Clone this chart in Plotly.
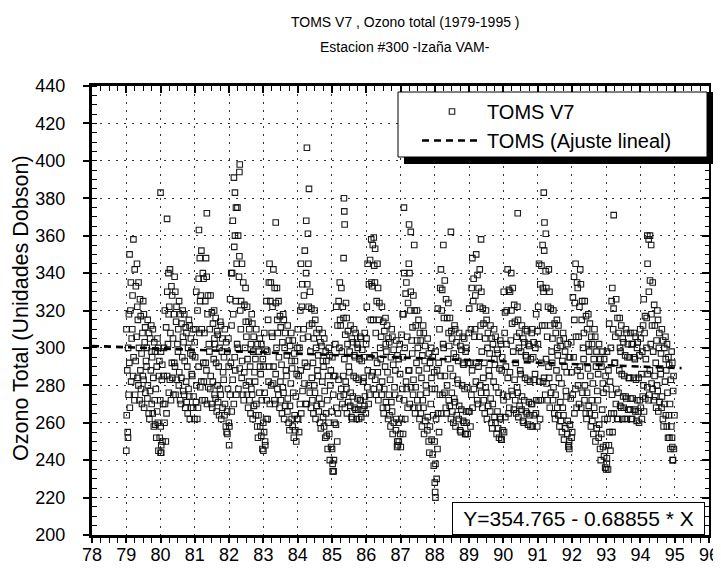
import plotly.graph_objects as go

# ---------------- data ----------------
years = list(range(1979, 1995))
# per month: [low, p10, p25, median, p75, p90, high]  (Dobson units, estimated from the cloud)
y1979 = [[255,264,275,288,300,310,318],[268,282,292,305,320,335,350],[272,285,295,310,328,342,358],
         [275,284,293,306,322,333,345],[272,280,288,300,315,326,335],[270,278,285,297,308,317,325],
         [268,276,283,293,303,311,318],[265,273,280,290,300,308,315],[262,270,277,288,298,305,312],
         [258,265,272,284,295,303,310],[252,259,266,278,290,298,305],[245,252,260,272,285,293,300]]
y1980 = [[244,250,258,270,283,291,298],[250,260,270,285,300,311,320],[265,276,285,302,318,330,340],
         [272,283,292,308,322,333,342],[275,284,292,305,318,328,338],[275,283,290,302,314,322,330],
         [272,280,287,298,310,318,325],[270,277,284,295,306,313,320],[268,275,282,293,303,311,318],
         [265,271,278,290,300,308,315],[262,268,274,286,297,305,312],[262,268,274,285,296,303,310]]
y1981 = [[262,271,280,295,310,320,330],[268,279,290,308,325,337,348],[272,282,292,310,328,340,352],
         [272,282,292,308,325,337,348],[270,279,288,302,318,328,338],[270,278,285,298,310,319,328],
         [268,275,282,294,305,313,320],[266,273,280,292,302,309,316],[264,271,278,290,300,307,314],
         [262,268,275,287,298,305,312],[258,264,270,283,295,303,310],[255,260,266,278,290,298,305]]
y1982 = [[258,266,275,292,312,326,340],[270,283,295,318,340,354,368],[275,288,302,325,345,360,375],
         [278,289,300,320,338,349,360],[275,284,293,310,325,335,345],[272,280,287,300,314,323,332],
         [268,275,282,294,306,314,322],[265,272,278,290,302,310,318],[262,269,275,287,298,306,313],
         [258,264,270,282,294,302,310],[252,258,264,276,290,298,305],[246,253,260,272,286,294,302]]
y1983 = [[248,255,262,276,290,299,308],[262,272,282,298,315,325,335],[270,280,290,308,325,335,345],
         [272,281,290,306,322,332,342],[270,278,286,300,315,324,332],[268,275,282,295,308,317,325],
         [265,272,279,291,303,311,318],[262,269,276,288,300,308,315],[260,266,273,285,296,304,312],
         [256,262,269,281,293,301,308],[252,258,264,276,289,297,304],[250,256,262,274,286,293,300]]
y1984 = [[255,262,270,285,300,310,320],[265,277,288,305,322,334,345],[270,281,292,310,328,340,352],
         [270,280,290,306,322,334,345],[268,276,284,298,312,321,330],[265,272,280,292,305,313,320],
         [262,269,276,288,300,308,315],[260,266,273,285,296,303,310],[257,263,270,282,293,301,308],
         [252,258,265,277,290,298,305],[246,253,260,272,285,293,300],[240,247,254,266,280,288,296]]
y1985 = [[234,240,246,260,275,285,295],[250,259,268,285,302,312,322],[265,274,283,300,315,325,335],
         [270,278,285,298,312,322,332],[268,275,282,294,307,316,324],[265,271,278,290,302,309,316],
         [263,269,276,287,298,305,312],[262,268,274,285,296,303,310],[262,267,273,284,295,302,308],
         [262,267,272,283,294,300,306],[263,267,272,282,293,299,305],[265,269,274,284,295,302,308]]
y1986 = [[270,279,288,305,322,334,345],[275,285,295,315,335,347,358],[278,287,296,315,333,344,355],
         [275,283,292,308,325,335,345],[272,279,287,300,315,324,332],[268,275,282,294,306,314,322],
         [265,271,278,290,302,309,316],[262,268,275,287,298,305,312],[258,264,271,283,295,303,310],
         [254,260,266,279,291,299,306],[250,256,262,275,288,296,304],[248,254,260,273,286,294,302]]
y1987 = [[247,254,262,278,295,307,318],[262,272,282,300,318,329,340],[268,278,288,306,324,335,345],
         [270,279,288,304,320,330,340],[268,275,283,297,311,320,328],[265,272,279,292,304,312,320],
         [262,268,275,288,300,308,315],[258,265,272,284,296,304,312],[254,261,268,280,293,301,308],
         [250,256,263,276,289,297,305],[244,251,258,270,284,292,300],[237,243,250,264,278,287,295]]
y1988 = [[230,238,246,262,278,288,298],[255,265,275,292,310,321,332],[265,275,285,302,320,331,342],
         [268,276,285,300,316,326,336],[265,272,280,294,308,316,324],[262,269,276,289,301,309,316],
         [260,266,273,285,297,305,312],[258,264,271,283,295,303,310],[256,262,269,281,293,301,308],
         [255,261,267,280,292,299,306],[254,260,266,278,291,298,305],[254,260,266,279,292,300,308]]
y1989 = [[258,266,275,292,310,321,332],[268,278,288,306,325,337,348],[272,282,292,310,328,339,350],
         [270,280,290,306,322,332,342],[268,276,284,298,312,321,330],[265,272,279,292,305,313,320],
         [262,269,276,288,300,308,315],[260,266,273,285,297,305,312],[257,263,270,282,294,302,310],
         [254,260,266,279,291,299,306],[252,257,263,276,289,297,304],[251,256,262,275,288,295,302]]
y1990 = [[255,263,272,290,308,319,330],[265,274,284,302,320,331,342],[268,277,287,304,320,330,340],
         [267,275,283,298,313,323,332],[265,272,279,292,306,314,322],[263,269,276,288,300,308,315],
         [261,267,274,286,298,305,312],[260,266,272,284,296,303,310],[259,265,271,283,295,302,309],
         [258,264,270,282,294,301,308],[258,264,270,283,295,303,310],[258,265,272,286,300,309,318]]
y1991 = [[262,272,282,302,322,334,345],[272,282,292,312,332,344,355],[275,284,294,312,330,341,352],
         [272,281,290,306,322,332,342],[268,276,284,298,312,321,330],[265,272,279,292,305,313,320],
         [262,268,275,288,300,308,315],[258,264,271,284,296,304,312],[255,261,268,281,293,301,308],
         [251,257,264,277,290,298,305],[248,254,261,274,287,295,302],[246,252,259,273,287,295,303]]
y1992 = [[255,265,275,295,315,327,338],[268,278,288,306,324,335,345],[270,280,290,306,322,332,342],
         [268,276,285,300,315,325,334],[265,272,280,294,308,317,325],[262,269,276,289,302,310,318],
         [258,265,272,285,298,306,313],[254,261,268,281,294,302,310],[250,257,264,277,290,298,306],
         [246,252,259,272,286,294,302],[240,247,254,267,281,290,298],[236,242,248,262,276,285,294]]
y1993 = [[235,241,248,262,278,288,298],[245,255,265,282,300,313,325],[255,265,275,292,310,321,332],
         [262,270,278,292,306,316,326],[262,269,276,288,300,308,316],[262,268,274,286,298,305,312],
         [262,268,274,285,296,303,310],[262,267,273,284,295,302,308],[262,267,273,284,295,302,308],
         [262,267,273,284,295,302,308],[261,266,272,283,294,300,306],[260,266,272,284,296,303,310]]
y1994 = [[262,268,274,286,298,305,312],[266,273,280,294,308,317,326],[272,279,286,300,316,330,345],
         [275,281,288,302,318,336,355],[272,278,285,298,312,323,335],[268,274,280,292,304,312,320],
         [266,271,277,289,300,308,315],[262,268,274,286,297,304,310],[258,264,270,282,294,300,306],
         [252,258,264,276,288,295,302],[246,252,258,270,283,291,298],[240,246,252,264,277,285,292]]
monthly = [y1979, y1980, y1981, y1982, y1983, y1984, y1985, y1986,
           y1987, y1988, y1989, y1990, y1991, y1992, y1993, y1994]

# isolated readings far from the main cloud (year as 2-digit decimal, DU)
outlier_x = [80.0, 80.19, 81.12, 81.35, 82.14, 82.17, 82.2, 82.3, 82.31, 83.36, 84.25, 84.27,
             84.3, 84.33, 85.35, 85.36, 85.37, 85.34, 86.22, 86.26, 87.1, 87.25, 87.3, 87.4,
             88.25, 88.47, 89.35, 90.42, 91.18, 91.2, 91.24, 93.22, 94.2, 94.24, 94.28,
             79.0, 79.05, 80.0, 80.02, 81.95, 82.0, 83.0, 83.05, 85.02, 85.05, 86.9, 86.95,
             88.0, 88.01, 88.02, 88.9, 89.95, 91.9, 91.92, 93.0, 93.02, 94.93, 94.95]
outlier_y = [383, 369, 363, 372, 391, 383, 375, 394, 398, 367, 368, 407,
             361, 385, 380, 373, 366, 348, 359, 353, 375, 366, 362, 355,
             355, 362, 358, 372, 383, 367, 361, 371, 360, 358, 360,
             245, 252, 244, 248, 254, 248, 245, 250, 238, 234, 247, 250,
             228, 223, 220, 254, 251, 247, 250, 235, 238, 247, 240]

# linear fit printed on the chart: Y = 354.765 - 0.68855 * X
fit_a = 354.765
fit_b = 0.68855
fit_x = [78.0, 95.2]

x_ticks = list(range(78, 97))
y_ticks = list(range(200, 441, 20))

# ---------------- build scatter points ----------------
# position of each of the 7 readings inside its month (fraction of the month)
slot_orders = [[0.50, 0.15, 0.80, 0.35, 0.65, 0.05, 0.92],
               [0.25, 0.70, 0.05, 0.90, 0.45, 0.60, 0.15],
               [0.85, 0.40, 0.55, 0.10, 0.20, 0.95, 0.50],
               [0.10, 0.90, 0.30, 0.60, 0.85, 0.35, 0.75],
               [0.65, 0.25, 0.95, 0.45, 0.05, 0.80, 0.30]]
px, py = [], []
for yi, yr in enumerate(years):
    for m, vals in enumerate(monthly[yi]):
        order = slot_orders[(m + yi) % 5]
        for k, v in enumerate(vals):
            px.append((yr - 1900) + (m + order[k]) / 12.0)
            py.append(v)
px += outlier_x
py += outlier_y

fit_y = [fit_a - fit_b * x for x in fit_x]

FONT = "Liberation Sans, Arial, sans-serif"

# page offset of the figure inside the browser (default body margin)
OFF = 8
FIG_W, FIG_H = 721 - OFF, 570 - OFF
# plot-area geometry in screen pixels
L, R, T, B = 92, 709, 86, 535
W, H = R - L, B - T
def xp(pix):
    return (pix - L) / W
def yp(pix):
    return (B - pix) / H

fig = go.Figure()
fig.add_trace(go.Scatter(
    x=px, y=py, mode="markers", name="TOMS V7",
    marker=dict(symbol="square-open", size=5.5, color="rgba(10,10,10,0.92)",
                line=dict(width=1.1, color="rgba(10,10,10,0.92)")),
    hoverinfo="skip"))
fig.add_trace(go.Scatter(
    x=fit_x, y=fit_y, mode="lines", name="TOMS (Ajuste lineal)",
    line=dict(color="black", width=2.6, dash="7px,5px"),
    xaxis="x2", yaxis="y2", hoverinfo="skip"))

axis_common = dict(showline=True, linecolor="black", zeroline=False, automargin=False)

fig.update_layout(
    width=FIG_W, height=FIG_H,
    paper_bgcolor="white", plot_bgcolor="white",
    margin=dict(l=L - OFF, r=(FIG_W + OFF) - R, t=T - OFF, b=(FIG_H + OFF) - B, autoexpand=False),
    font=dict(family=FONT, color="black"),
    showlegend=True,
    legend=dict(x=xp(417), xanchor="left", y=yp(92), yanchor="top",
                bgcolor="rgba(0,0,0,0)", borderwidth=0,
                font=dict(size=20, family=FONT), itemwidth=60),
    xaxis=dict(range=[78, 96], tickvals=x_ticks, ticktext=[str(v) for v in x_ticks],
               ticks="outside", ticklen=5, tickwidth=1.5, tickcolor="black",
               minor=dict(dtick=0.25, ticks="outside", ticklen=5, tickwidth=1, tickcolor="black"),
               showgrid=True, gridcolor="#333", gridwidth=1, griddash="2px,6px",
               linewidth=3, mirror=False, ticklabelstandoff=-4,
               tickfont=dict(size=18, family=FONT), **axis_common),
    yaxis=dict(range=[200, 440], tickvals=y_ticks,
               ticks="outside", ticklen=6, tickwidth=1.5, tickcolor="black",
               minor=dict(dtick=5, ticks="inside", ticklen=5, tickwidth=1, tickcolor="black"),
               showgrid=True, gridcolor="#333", gridwidth=1, griddash="2px,6px",
               linewidth=3, mirror=False, ticklabelstandoff=14,
               tickfont=dict(size=18, family=FONT), **axis_common),
    xaxis2=dict(range=[78, 96], overlaying="x", side="top", anchor="y2",
                tickvals=x_ticks, showticklabels=False,
                ticks="inside", ticklen=7, tickwidth=1.5, tickcolor="black",
                minor=dict(dtick=0.25, ticks="inside", ticklen=5, tickwidth=1, tickcolor="black"),
                showgrid=False, linewidth=3, **axis_common),
    yaxis2=dict(range=[200, 440], overlaying="y", side="right", anchor="x2",
                tickvals=y_ticks, showticklabels=False,
                ticks="inside", ticklen=7, tickwidth=1.5, tickcolor="black",
                minor=dict(dtick=5, ticks="inside", ticklen=4, tickwidth=1, tickcolor="black"),
                showgrid=False, linewidth=2, **axis_common),
)

annotations = [
    dict(text="TOMS V7 , Ozono total (1979-1995 )", x=xp(405), y=yp(22), xref="paper", yref="paper",
         showarrow=False, font=dict(size=14, family=FONT), xanchor="center", yanchor="middle"),
    dict(text="Estacion #300 -Izaña VAM-", x=xp(405), y=yp(47), xref="paper", yref="paper",
         showarrow=False, font=dict(size=14, family=FONT), xanchor="center", yanchor="middle"),
    dict(text="Ozono Total (Unidades Dobson)", x=xp(21), y=yp(308), xref="paper", yref="paper",
         showarrow=False, textangle=-90, font=dict(size=21.5, family=FONT),
         xanchor="center", yanchor="middle"),
    dict(text="Y=354.765 - 0.68855 * X", x=xp(705), y=0.0, xref="paper", yref="paper",
         showarrow=False, font=dict(size=21, family=FONT), xanchor="right", yanchor="bottom",
         bgcolor="white", bordercolor="black", borderwidth=1, borderpad=2,
         width=247, height=27, align="center"),
]
fig.update_layout(annotations=annotations)

# legend frame: black drop shadow, then white box with thin border
fig.add_shape(type="rect", xref="paper", yref="paper",
              x0=xp(404), x1=xp(713), y0=yp(164), y1=yp(92),
              fillcolor="black", line=dict(width=0), layer="above")
fig.add_shape(type="rect", xref="paper", yref="paper",
              x0=xp(398), x1=xp(707), y0=yp(157), y1=yp(92),
              fillcolor="white", line=dict(width=1, color="black"), layer="above")

fig.write_html("out.html")
